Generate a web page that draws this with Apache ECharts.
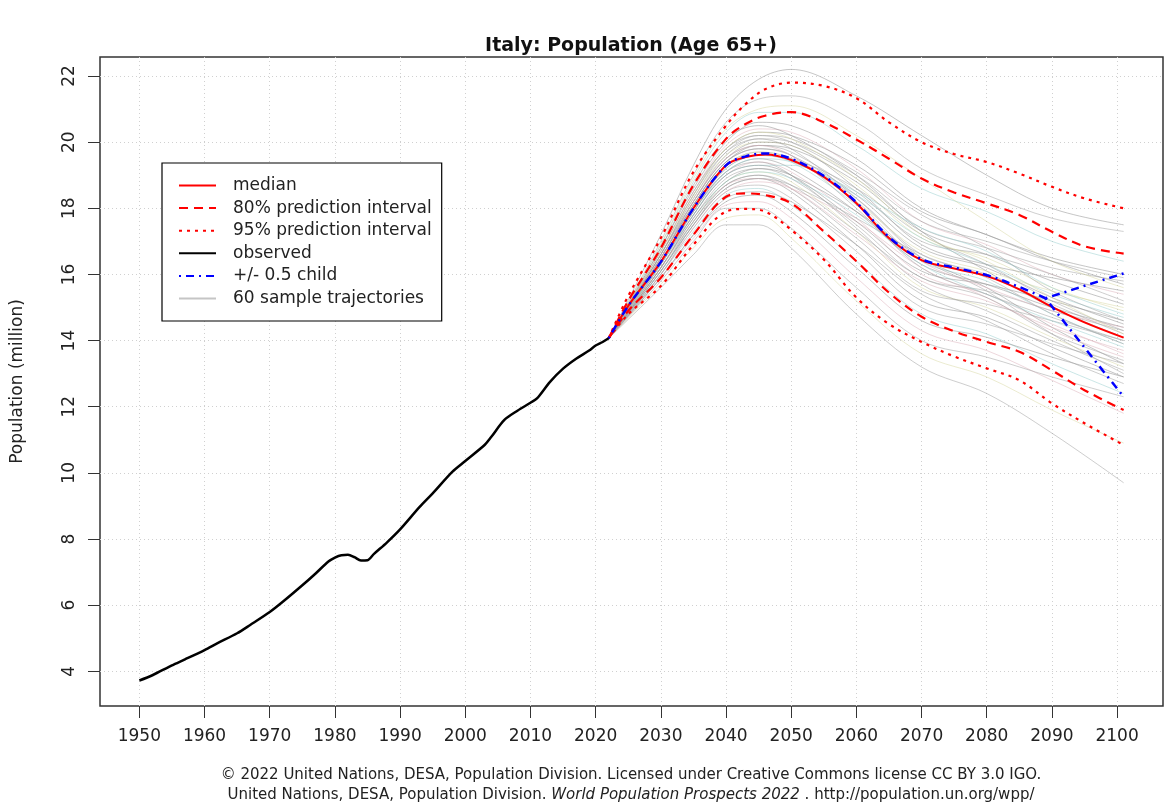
<!DOCTYPE html>
<html><head><meta charset="utf-8">
<script src="https://cdn.jsdelivr.net/npm/echarts@6/dist/echarts.min.js"></script>
<style>html,body{margin:0;padding:0;background:#fff}#c{width:1165px;height:810px}</style>
</head><body><div id="c"></div>
<script>
// ---------- data ----------
const xTicks = [1950,1960,1970,1980,1990,2000,2010,2020,2030,2040,2050,2060,2070,2080,2090,2100];
const yTicks = [4,6,8,10,12,14,16,18,20,22];

const obsYears  = [1950,1952,1955,1957,1960,1962,1965,1967,1970,1972,1975,1977,1979,1980,1981,1982,1983,1984,1985,1986,1988,1990,1993,1995,1998,2000,2003,2004,2006,2008,2010,2011,2013,2015,2017,2019,2020,2021,2022];
const obsValues = [3.72,3.88,4.18,4.36,4.64,4.85,5.15,5.40,5.79,6.10,6.60,6.95,7.32,7.44,7.51,7.52,7.45,7.35,7.36,7.55,7.90,8.29,8.97,9.38,10.03,10.36,10.85,11.09,11.60,11.88,12.12,12.25,12.75,13.15,13.45,13.70,13.85,13.95,14.07];

const projYears = [2022,2025,2030,2035,2040,2043,2046,2050,2055,2060,2065,2070,2075,2080,2085,2090,2095,2101];
const median    = [14.07,15.05,16.38,18.00,19.30,19.55,19.63,19.46,18.95,18.15,17.10,16.43,16.18,15.95,15.55,15.02,14.55,14.09];
const pi95Upper = [14.07,15.35,17.10,19.10,20.50,21.15,21.60,21.80,21.70,21.33,20.60,20.00,19.64,19.40,19.05,18.65,18.30,18.00];
const pi80Upper = [14.07,15.20,16.80,18.70,20.10,20.55,20.80,20.91,20.60,20.08,19.50,18.90,18.48,18.15,17.80,17.29,16.85,16.63];
const pi80Lower = [14.07,14.90,15.90,17.20,18.35,18.45,18.40,18.15,17.30,16.40,15.45,14.72,14.28,13.96,13.66,13.10,12.50,11.90];
const pi95Lower = [14.07,14.80,15.65,16.90,17.90,17.98,17.90,17.35,16.45,15.30,14.50,13.96,13.52,13.16,12.80,12.10,11.50,10.84];

const childYears  = [2022,2025,2030,2035,2040,2043,2046,2050,2055,2060,2065,2070,2075,2080,2085,2089];
const childValues = [14.07,15.05,16.38,18.00,19.30,19.57,19.66,19.50,18.98,18.18,17.13,16.46,16.21,15.98,15.62,15.28];
const childHighYears = [2089,2101];
const childHigh      = [15.28,16.03];
const childLowYears  = [2089,2101];
const childLow       = [15.28,12.30];

const trajYears = [2022,2030,2035,2040,2045,2050,2060,2070,2080,2090,2101];
const trajectories = [
  [14.07,17.2,19.3,21.0,21.9,22.2,21.4,20.2,19.0,18.0,17.5],
  [14.07,17.0,19.0,20.6,21.3,21.4,20.6,19.2,18.4,17.7,17.3],
  [14.07,16.9,18.8,20.3,20.9,20.9,19.9,18.6,17.9,17.0,16.4],
  [14.07,16.8,18.6,20.0,20.6,20.5,19.5,18.0,17.2,16.5,16.0],
  [14.07,16.7,18.5,19.9,20.4,20.3,19.2,17.6,16.9,16.0,15.4],
  [14.07,16.6,18.4,19.8,20.2,20.0,18.9,17.4,16.8,16.2,15.8],
  [14.07,16.6,18.3,19.6,20.0,19.9,18.7,17.1,16.5,15.6,14.9],
  [14.07,16.5,18.2,19.5,19.9,19.7,18.5,17.0,16.6,16.0,15.2],
  [14.07,16.5,18.1,19.4,19.8,19.6,18.4,16.8,16.2,15.3,14.5],
  [14.07,16.4,18.0,19.3,19.7,19.5,18.3,16.6,16.0,15.1,14.2],
  [14.07,16.4,18.0,19.2,19.6,19.4,18.1,16.4,15.8,14.8,13.9],
  [14.07,16.3,17.9,19.1,19.5,19.2,17.9,16.3,15.7,15.0,14.4],
  [14.07,16.3,17.8,19.0,19.4,19.1,17.7,16.0,15.4,14.5,13.6],
  [14.07,16.2,17.7,18.9,19.2,18.9,17.5,15.9,15.5,14.9,14.3],
  [14.07,16.2,17.6,18.8,19.1,18.8,17.3,15.6,15.0,14.1,13.2],
  [14.07,16.1,17.5,18.7,19.0,18.6,17.1,15.5,15.1,14.6,14.0],
  [14.07,16.1,17.5,18.6,18.9,18.5,16.9,15.2,14.7,13.8,12.9],
  [14.07,16.0,17.4,18.5,18.7,18.3,16.7,15.0,14.5,13.9,13.3],
  [14.07,16.0,17.3,18.4,18.6,18.1,16.4,14.8,14.2,13.3,12.4],
  [14.07,15.9,17.2,18.2,18.4,17.9,16.2,14.6,14.1,13.5,12.9],
  [14.07,15.9,17.1,18.1,18.2,17.7,15.9,14.3,13.7,12.8,11.8],
  [14.07,15.8,17.0,18.0,18.0,17.4,15.6,14.0,13.5,12.9,12.3],
  [14.07,15.7,16.8,17.7,17.8,17.1,15.2,13.6,12.9,11.9,10.9],
  [14.07,15.6,16.6,17.5,17.5,16.8,14.8,13.2,12.4,11.2,9.7],
  [14.07,16.8,18.7,20.1,20.5,20.2,19.0,17.3,16.1,15.0,14.1],
  [14.07,16.5,18.2,19.6,20.1,20.0,19.0,17.6,17.0,16.4,15.9],
  [14.07,16.3,17.8,19.0,19.3,19.3,18.4,17.1,16.3,15.4,14.7],
  [14.07,16.2,17.7,18.8,19.2,19.0,17.9,16.5,15.6,14.4,13.3],
  [14.07,16.0,17.4,18.5,18.8,18.6,17.6,16.2,15.3,14.3,13.5],
  [14.07,16.6,18.4,19.7,20.1,19.8,18.3,16.5,15.5,14.2,13.0],
  [14.07,16.9,18.9,20.4,21.0,21.1,20.2,18.9,17.6,16.4,15.6],
  [14.07,16.4,17.9,19.1,19.4,19.0,17.4,15.7,14.9,14.0,13.1],
  [14.07,16.7,18.5,19.8,20.3,20.2,19.3,17.9,17.2,16.4,15.7],
  [14.07,16.3,17.9,19.2,19.6,19.5,18.6,17.2,16.3,15.2,14.3],
  [14.07,16.1,17.6,18.8,19.1,18.9,17.8,16.3,15.4,14.6,13.8],
  [14.07,16.5,18.1,19.4,19.9,19.8,18.8,17.3,16.6,15.8,15.1],
  [14.07,16.2,17.6,18.7,18.9,18.6,17.2,15.8,15.2,14.4,13.7],
  [14.07,16.6,18.3,19.7,20.2,20.1,19.1,17.8,16.8,15.5,14.6],
  [14.07,16.4,18.0,19.3,19.7,19.5,18.2,16.7,16.1,15.5,15.0],
  [14.07,15.9,17.2,18.3,18.5,18.2,16.9,15.4,14.6,13.6,12.7],
  [14.07,16.6,18.2,19.5,20.0,19.9,18.6,16.9,16.3,15.9,15.5],
  [14.07,16.4,18.1,19.4,19.8,19.6,18.0,16.2,15.4,14.7,14.0],
  [14.07,16.3,17.8,19.1,19.5,19.4,18.5,17.4,16.7,15.6,14.8],
  [14.07,16.2,17.8,19.0,19.3,19.0,17.6,16.1,15.7,15.2,14.6],
  [14.07,16.5,18.2,19.5,19.9,19.6,18.2,16.4,15.6,14.9,14.4],
  [14.07,16.0,17.5,18.6,18.9,18.7,17.7,16.6,15.9,14.8,13.9],
  [14.07,16.7,18.4,19.8,20.3,20.1,18.9,17.2,16.4,15.3,14.2],
  [14.07,16.1,17.6,18.7,19.0,18.7,17.3,15.9,15.3,14.2,13.4]
];

// ---------- styles ----------
const FONT = 'DejaVu Sans';
const trajPalette = ['rgba(150,150,150,0.55)','rgba(160,160,160,0.5)','rgba(150,205,205,0.5)','rgba(140,140,140,0.5)','rgba(220,175,185,0.5)','rgba(165,165,165,0.55)','rgba(210,210,150,0.45)','rgba(155,155,155,0.5)'];

const zip = (xs, ys) => xs.map((x, i) => [x, ys[i]]);

const series = [];
trajectories.forEach((t, i) => {
  series.push({
    name: '60 sample trajectories', type: 'line', data: zip(trajYears, t),
    symbol: 'none', smooth: 0.35, z: 1, silent: true,
    lineStyle: { color: trajPalette[i % trajPalette.length], width: 1 },
    itemStyle: { color: '#b4b4b4' }
  });
});
const red = '#ff0000';
const addLine = (name, xs, ys, type, width, color, z, smooth) => series.push({
  name, type: 'line', data: zip(xs, ys), symbol: 'none', smooth: smooth, z, silent: true,
  lineStyle: { color, width, type, cap: 'butt' }, itemStyle: { color }
});
addLine('95% prediction interval', projYears, pi95Upper, [3,5], 2.2, red, 3, 0.35);
addLine('95% prediction interval', projYears, pi95Lower, [3,5], 2.2, red, 3, 0.35);
addLine('80% prediction interval', projYears, pi80Upper, [9,6], 2.2, red, 3, 0.35);
addLine('80% prediction interval', projYears, pi80Lower, [9,6], 2.2, red, 3, 0.35);
addLine('median', projYears, median, 'solid', 2, red, 4, 0.35);
addLine('+/- 0.5 child', childYears, childValues, [2,5,8,5], 2.5, '#0000ff', 5, 0.35);
addLine('+/- 0.5 child', childHighYears, childHigh, [2,5,8,5], 2.5, '#0000ff', 5, false);
addLine('+/- 0.5 child', childLowYears, childLow, [2,5,8,5], 2.5, '#0000ff', 5, false);
addLine('observed', obsYears, obsValues, 'solid', 2.5, '#000000', 6, 0.3);

const chart = echarts.init(document.getElementById('c'), null, { renderer: 'canvas' });
chart.setOption({
  animation: false,
  backgroundColor: '#ffffff',
  textStyle: { fontFamily: FONT },
  grid: { left: 100, right: 2, top: 57, bottom: 104, show: true, borderColor: '#333', borderWidth: 1.5, containLabel: false },
  xAxis: {
    type: 'value', min: 1943.96, max: 2107.04,
    axisLine: { show: false },
    axisTick: { show: true, customValues: xTicks, length: 12, lineStyle: { color: '#333', width: 1 } },
    axisLabel: { customValues: xTicks, margin: 22, fontSize: 17, fontFamily: FONT, color: '#222', formatter: v => String(v) },
    splitLine: { show: true, lineStyle: { color: '#d0d0d0', width: 1, type: [1, 3] } }
  },
  yAxis: {
    type: 'value', min: 2.95, max: 22.575,
    name: 'Population (million)', nameLocation: 'middle', nameGap: 74,
    nameTextStyle: { fontSize: 17, fontFamily: FONT, color: '#222' },
    axisLine: { show: false },
    axisTick: { show: true, customValues: yTicks, length: 12, lineStyle: { color: '#333', width: 1 } },
    axisLabel: { customValues: yTicks, margin: 22, rotate: 90, fontSize: 17, fontFamily: FONT, color: '#222', formatter: v => String(v) },
    splitLine: { show: true, lineStyle: { color: '#d0d0d0', width: 1, type: [1, 3] } }
  },
  legend: {
    orient: 'vertical', left: 162, top: 163,
    data: ['median', '80% prediction interval', '95% prediction interval', 'observed', '+/- 0.5 child', '60 sample trajectories'],
    backgroundColor: '#ffffff', borderColor: '#000', borderWidth: 1.2,
    padding: [14, 10, 14, 16],
    itemWidth: 37, itemHeight: 14, itemGap: 5.6,
    selectedMode: false,
    itemStyle: { opacity: 0 },
    textStyle: { fontSize: 17, fontFamily: FONT, color: '#222', lineHeight: 16, padding: [0, 0, 0, 12] }
  },
  graphic: [
    { type: 'text', x: 631, y: 46, style: { text: 'Italy: Population (Age 65+)', font: 'bold 19px "DejaVu Sans"', fill: '#111', align: 'center', verticalAlign: 'middle' } },
    { type: 'text', x: 631, y: 775, style: { text: '© 2022 United Nations, DESA, Population Division. Licensed under Creative Commons license CC BY 3.0 IGO.', font: '15px "DejaVu Sans"', fill: '#222', align: 'center', verticalAlign: 'middle' } },
    { type: 'text', x: 631, y: 795, style: { text: '{n|United Nations, DESA, Population Division. }{i|World Population Prospects 2022}{n| . http://population.un.org/wpp/}', align: 'center', verticalAlign: 'middle', rich: { n: { font: '15px "DejaVu Sans"', fill: '#222' }, i: { font: 'italic 15px "DejaVu Sans"', fill: '#222' } } } }
  ],
  series
});
</script></body></html>
